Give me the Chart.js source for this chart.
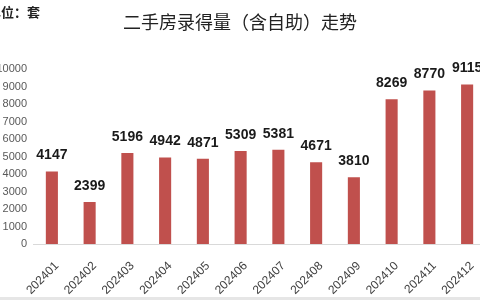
<!DOCTYPE html>
<html><head><meta charset="utf-8">
<script src="https://cdn.jsdelivr.net/npm/chart.js@4"></script>
<style>
html,body{margin:0;padding:0;width:480px;height:300px;overflow:hidden;background:#fff;position:relative}
#wrap{position:absolute;left:-8px;top:0;width:500px;height:300px}
#title{position:absolute;left:0;width:480px;top:9px;text-align:center;font-family:"Noto Sans CJK SC";font-size:18px;color:#222;line-height:24px}
#unit{position:absolute;left:-12px;top:3px;font-family:"Noto Sans CJK SC";font-size:13px;font-weight:bold;color:#222;line-height:18px}
#band{position:absolute;left:0;bottom:0;width:480px;height:3px;background:#e6e6e6}
</style></head><body>
<div id="wrap"><canvas id="c" width="500" height="300"></canvas></div>
<div id="title">二手房录得量（含自助）走势</div>
<div id="unit">单位：套</div>
<div id="band"></div>
<script>
const categories = ["202401","202402","202403","202404","202405","202406","202407","202408","202409","202410","202411","202412"];
const values = [4147,2399,5196,4942,4871,5309,5381,4671,3810,8269,8770,9115];
const yTicks = [0,1000,2000,3000,4000,5000,6000,7000,8000,9000,10000];

const labelPlugin = {
  id:'vals',
  afterDatasetsDraw(chart){
    const ctx = chart.ctx;
    const meta = chart.getDatasetMeta(0);
    ctx.save();
    ctx.font = 'bold 14px "Liberation Sans", Lato, sans-serif';
    ctx.fillStyle = '#1a1a1a';
    ctx.textAlign = 'center';
    ctx.textBaseline = 'bottom';
    meta.data.forEach((bar,i)=>{
      ctx.fillText(String(values[i]), bar.x, bar.y - 9);
    });
    const xs = chart.scales.x;
    const base = chart.chartArea.bottom;
    ctx.font = '12px "Liberation Sans", sans-serif';
    ctx.fillStyle = '#404040';
    ctx.textAlign = 'right';
    ctx.textBaseline = 'middle';
    categories.forEach((c,i)=>{
      const x = xs.getPixelForValue(i);
      ctx.save();
      ctx.translate(x + 5, base + 20);
      ctx.rotate(-Math.PI/4);
      ctx.fillText(c, 0, 0);
      ctx.restore();
    });
    ctx.restore();
  }
};

new Chart(document.getElementById('c'), {
  type:'bar',
  data:{labels:categories, datasets:[{data:values, backgroundColor:'#C0504D', barPercentage:0.64, categoryPercentage:0.5}]},
  options:{
    responsive:false, animation:false,
    layout:{padding:{top:69,right:6,bottom:0,left:0}},
    plugins:{legend:{display:false}, title:{display:false}, tooltip:{enabled:false}},
    scales:{
      x:{
        grid:{display:false, drawTicks:false},
        border:{display:true,color:'#d9d9d9',width:1},
        ticks:{display:false},
        afterFit(s){ s.height = 56; }
      },
      y:{
        min:0, max:10000,
        grid:{display:false, drawTicks:false},
        border:{display:false},
        afterBuildTicks(s){ s.ticks = yTicks.map(v=>({value:v})); },
        ticks:{color:'#595959', font:{size:11, family:'"Liberation Sans", sans-serif'}, padding:6, callback:(v)=>String(v)},
        afterFit(s){ s.width = 41; }
      }
    }
  },
  plugins:[labelPlugin]
});
</script>
</body></html>
